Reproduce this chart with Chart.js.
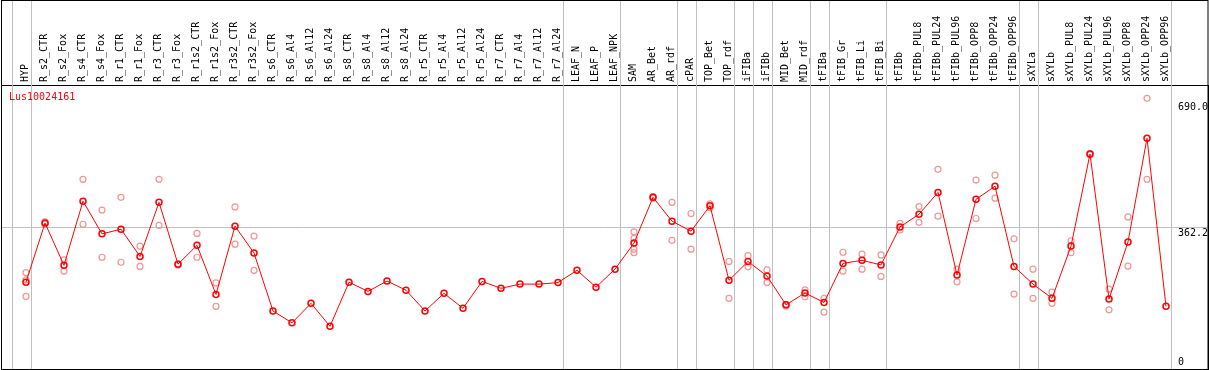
<!DOCTYPE html>
<html>
<head>
<meta charset="utf-8">
<script src="https://cdn.jsdelivr.net/npm/chart.js@4.4.0/dist/chart.umd.min.js"></script>
<style>
  html, body { margin: 0; padding: 0; background: #fff; }
  canvas { display: block; }
</style>
</head>
<body>
<canvas id="chart" width="1209" height="370"></canvas>
<script>
const geneName = 'Lus10024161';

const categories = [
    'HYP', 'R_s2_CTR', 'R_s2_Fox', 'R_s4_CTR', 'R_s4_Fox', 'R_r1_CTR', 'R_r1_Fox',
    'R_r3_CTR', 'R_r3_Fox', 'R_r1s2_CTR', 'R_r1s2_Fox', 'R_r3s2_CTR', 'R_r3s2_Fox',
    'R_s6_CTR', 'R_s6_Al4', 'R_s6_Al12', 'R_s6_Al24', 'R_s8_CTR', 'R_s8_Al4',
    'R_s8_Al12', 'R_s8_Al24', 'R_r5_CTR', 'R_r5_Al4', 'R_r5_Al12', 'R_r5_Al24',
    'R_r7_CTR', 'R_r7_Al4', 'R_r7_Al12', 'R_r7_Al24', 'LEAF_N', 'LEAF_P', 'LEAF_NPK',
    'SAM', 'AR_Bet', 'AR_rdf', 'cPAR', 'TOP_Bet', 'TOP_rdf', 'iFIBa', 'iFIBb',
    'MID_Bet', 'MID_rdf', 'tFIBa', 'tFIB_Gr', 'tFIB_Li', 'tFIB_Bi', 'tFIBb',
    'tFIBb_PUL8', 'tFIBb_PUL24', 'tFIBb_PUL96', 'tFIBb_OPP8', 'tFIBb_OPP24', 'tFIBb_OPP96',
    'sXYLa', 'sXYLb', 'sXYLb_PUL8', 'sXYLb_PUL24', 'sXYLb_PUL96', 'sXYLb_OPP8',
    'sXYLb_OPP24', 'sXYLb_OPP96'
];

const means = [
    221, 375, 265, 432, 347, 359, 288, 429, 268, 317, 189, 367, 297,
    146, 115, 166, 106, 221, 197, 224, 200, 146, 192, 153, 223,
    205, 216, 216, 220, 252, 208, 255,
    323, 442, 380, 354, 420, 226, 275, 237, 162, 193, 168, 270, 278, 266,
    365, 398, 455, 240, 437, 471, 262,
    216, 179, 315, 555, 177, 326, 596, 158
];

// individual replicates, one list per category
const replicates = [
    [246, 227, 184], [378, 372], [279, 250], [489, 372], [409, 286], [442, 273],
    [315, 262], [489, 369], [269, 266], [348, 286], [219, 158], [417, 320], [341, 252],
    [], [], [], [], [], [], [], [], [], [], [], [], [], [], [], [], [], [], [],
    [352, 335, 307, 298], [444, 440], [429, 330], [400, 307], [425, 415], [275, 179],
    [290, 261], [253, 220], [159, 163], [201, 183], [179, 143], [299, 250], [294, 255],
    [292, 236], [374, 357], [418, 377], [515, 393], [255, 222], [487, 387], [500, 440],
    [334, 190], [255, 179], [195, 166], [329, 298], [557, 553], [203, 149], [391, 263],
    [700, 489], []
];

const yTicks = [0, 362.2, 690];
const refLine = 362.2;

// index of the last category in each group (separator goes after it)
const groupEnds = [-1, 0, 28, 31, 34, 35, 37, 38, 39, 41, 42, 45, 52, 53, 60];

const monoFont = '"DejaVu Sans Mono", monospace';

const framePlugin = {
    id: 'frame',
    beforeDatasetsDraw(chart) {
        const { ctx, scales: { x } } = chart;
        ctx.save();
        ctx.strokeStyle = '#c0c0c0';
        ctx.lineWidth = 1;
        groupEnds.forEach(g => {
            const px = Math.round(x.getPixelForValue(g + 0.24)) + 0.5;
            ctx.beginPath();
            ctx.moveTo(px, 0);
            ctx.lineTo(px, chart.chartArea.bottom);
            ctx.stroke();
        });
        ctx.restore();
    },
    afterDraw(chart) {
        const { ctx, chartArea, scales: { y } } = chart;
        ctx.save();
        // outer frame
        ctx.strokeStyle = '#000';
        ctx.lineWidth = 1;
        ctx.strokeRect(1.5, 0.5, chartArea.right - 1.5, chartArea.bottom);

        // gene name
        ctx.font = '10px ' + monoFont;
        ctx.fillStyle = '#ff0000';
        ctx.textBaseline = 'middle';
        ctx.textAlign = 'left';
        ctx.fillText(geneName, chartArea.left + 8, chartArea.top + 12);

        // y labels inside the plot, right side
        ctx.fillStyle = '#000';
        yTicks.forEach(v => {
            const py = Math.min(y.getPixelForValue(v) + 5, chartArea.bottom - 7);
            const txt = v === 0 ? '0' : v.toFixed(1);
            ctx.fillText(txt, chartArea.right - 30, py);
        });
        ctx.restore();
    }
};

new Chart(document.getElementById('chart'), {
    data: {
        datasets: [
            {
                type: 'line',
                label: geneName,
                data: means.map((v, i) => ({ x: i, y: v })),
                borderColor: '#ff0000',
                borderWidth: 1,
                tension: 0,
                pointRadius: 3,
                pointBorderWidth: 1.5,
                pointBorderColor: '#ff0000',
                pointBackgroundColor: 'rgba(0,0,0,0)',
                order: 0
            },
            {
                type: 'scatter',
                label: 'replicates',
                data: replicates.flatMap((r, i) => r.map(v => ({ x: i, y: v }))),
                pointRadius: 3,
                pointBorderWidth: 1.2,
                pointBorderColor: '#f09696',
                pointBackgroundColor: 'rgba(0,0,0,0)',
                order: 1
            }
        ]
    },
    options: {
        responsive: false,
        animation: false,
        layout: { autoPadding: false, padding: { left: 1, right: 1, top: 0, bottom: 1 } },
        plugins: {
            legend: { display: false },
            tooltip: { enabled: false }
        },
        scales: {
            x: {
                type: 'linear',
                position: 'top',
                min: -25 / 19,
                max: 60 + 42 / 19,
                afterBuildTicks: axis => { axis.ticks = categories.map((c, i) => ({ value: i })); },
                afterFit: axis => {
                    axis.height = 85;
                    axis.paddingLeft = 0;
                    axis.paddingRight = 0;
                },
                grid: { display: false, drawTicks: false },
                border: { display: true, color: '#000', width: 1 },
                ticks: {
                    autoSkip: false,
                    minRotation: 90,
                    maxRotation: 90,
                    padding: 3,
                    labelOffset: 11,
                    color: '#000',
                    font: { family: monoFont, size: 10 },
                    callback: v => categories[v]
                }
            },
            y: {
                position: 'right',
                min: -5.2,
                max: 734.8,
                afterBuildTicks: axis => { axis.ticks = yTicks.map(v => ({ value: v })); },
                afterFit: axis => {
                    axis.width = 0;
                    axis.paddingTop = 0;
                    axis.paddingBottom = 0;
                },
                grid: {
                    drawTicks: false,
                    color: c => (c.tick && c.tick.value === refLine) ? '#c0c0c0' : 'rgba(0,0,0,0)'
                },
                border: { display: true, color: '#000', width: 1 },
                ticks: { display: false }
            }
        }
    },
    plugins: [framePlugin]
});
</script>
</body>
</html>
